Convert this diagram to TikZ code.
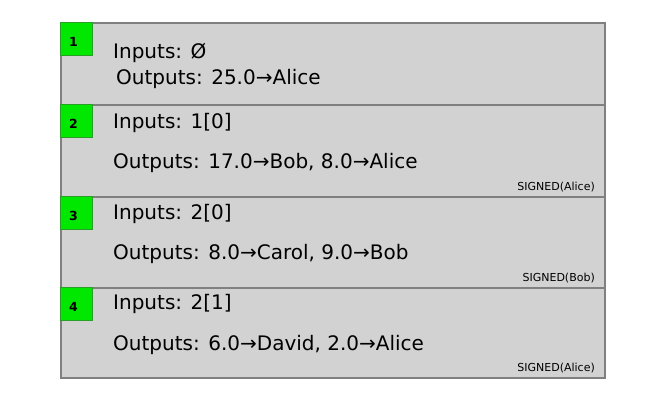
\documentclass[tikz,border=0pt]{standalone}
\usepackage{fontspec}
\setmainfont{DejaVu Sans}
\usetikzlibrary{positioning}

\definecolor{rowgray}{RGB}{210,210,210}
\definecolor{rowline}{RGB}{128,128,128}
\definecolor{taggreen}{RGB}{0,232,0}
\definecolor{tagline}{RGB}{40,160,40}

\tikzset{
  rowbox/.style = {draw = rowline, line width = 1.6pt, fill = rowgray,
    anchor = north west, minimum width = 544pt, inner sep = 0pt},
  tagbox/.style = {draw = tagline, line width = 0.8pt, fill = taggreen,
    anchor = north west, minimum width = 32pt, minimum height = 33pt,
    inner sep = 0pt},
  tagnum/.style = {font = \fontsize{12.5}{14}\selectfont\bfseries, inner sep = 0pt},
  txtline/.style = {font = \fontsize{20}{24}\selectfont, anchor = base west,
    inner sep = 0pt},
  signtxt/.style = {font = \fontsize{11}{13}\selectfont, anchor = base east,
    inner sep = 0pt}
}

\begin{document}
\begin{tikzpicture}[x = 1pt, y = -1pt]
  \useasboundingbox (0,0) rectangle (658,408);
  \node[rowbox, minimum height = 82pt] (row1) at (60,22) {};
  \node[rowbox, minimum height = 92pt] (row2) at (60,104) {};
  \node[rowbox, minimum height = 91pt] (row3) at (60,196) {};
  \node[rowbox, minimum height = 90pt] (row4) at (60,287) {};
  \node[tagbox] (tag1) at (row1.north west) {};
  \node[tagbox] (tag2) at (row2.north west) {};
  \node[tagbox] (tag3) at (row3.north west) {};
  \node[tagbox] (tag4) at (row4.north west) {};
  \node[tagnum] (num1) at ([xshift = -3pt, yshift = -3pt]tag1.center) {1};
  \node[tagnum] (num2) at ([xshift = -3pt, yshift = -3pt]tag2.center) {2};
  \node[tagnum] (num3) at ([xshift = -3pt, yshift = -3pt]tag3.center) {3};
  \node[tagnum] (num4) at ([xshift = -3pt, yshift = -3pt]tag4.center) {4};
  \node[txtline] (in1) at (113,58) {Inputs: Ø};
  \node[txtline] (out1) at (116,84) {Outputs: 25.0→Alice};
  \node[txtline] (in2) at (113,128) {Inputs: 1[0]};
  \node[txtline] (out2) at (113,168) {Outputs: 17.0→Bob, 8.0→Alice};
  \node[signtxt] (sig2) at (595,190) {SIGNED(Alice)};
  \node[txtline] (in3) at (113,219) {Inputs: 2[0]};
  \node[txtline] (out3) at (113,259) {Outputs: 8.0→Carol, 9.0→Bob};
  \node[signtxt] (sig3) at (595,281) {SIGNED(Bob)};
  \node[txtline] (in4) at (113,309) {Inputs: 2[1]};
  \node[txtline] (out4) at (113,350) {Outputs: 6.0→David, 2.0→Alice};
  \node[signtxt] (sig4) at (595,371) {SIGNED(Alice)};
\end{tikzpicture}
\end{document}
